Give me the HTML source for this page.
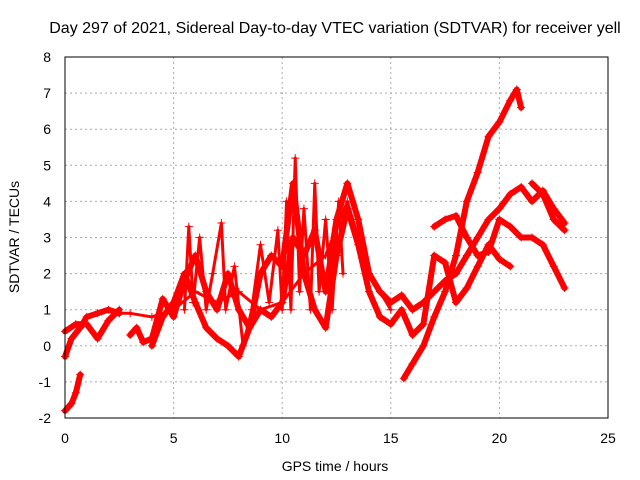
<!DOCTYPE html>
<html><head><meta charset="utf-8"><style>
body{margin:0;background:#fff}
svg{display:block;font-family:"Liberation Sans",sans-serif}
</style></head><body>
<svg id="c" width="640" height="480">
<text x="335" y="33" font-size="16" text-anchor="middle">Day 297 of 2021, Sidereal Day-to-day VTEC variation (SDTVAR) for receiver yell</text>
<text x="335" y="471" font-size="14" text-anchor="middle">GPS time / hours</text>
<text x="19" y="237" font-size="14" text-anchor="middle" transform="rotate(-90 19 237)">SDTVAR / TECUs</text>
<g id="grid"></g><g id="ticks"></g><g id="marks"></g>
<rect x="65" y="57" width="543" height="361" fill="none" stroke="#000"/>
</svg>
<script>
const xTicks=[0,5,10,15,20,25];
const yTicks=[-2,-1,0,1,2,3,4,5,6,7,8];
const track1=[[0,-1.8],[0.3,-1.6],[0.5,-1.3],[0.7,-0.8]];
const track2=[[0,-0.3],[0.3,0.2],[0.7,0.5],[1,0.8],[1.5,0.9],[2,1.0],[2.5,0.9]];
const track3=[[0,0.4],[0.5,0.6],[1,0.6],[1.5,0.2],[2,0.7],[2.5,1.0]];
const track4=[[3,0.3],[3.3,0.5],[3.6,0.1],[4,0.2],[4.5,1.3],[5,0.8],[5.5,1.8],[6,2.5],[6.5,1.5],[7,1.0],[7.5,2.0],[8,1.0],[8.5,0.5],[9,1.0],[9.5,0.8],[10,1.2],[10.5,3.0],[11,2.5],[11.5,3.2],[12,1.5],[12.5,3.5],[13,4.5],[13.5,3.5],[14,2.0],[14.5,1.5],[15,1.2],[15.5,1.4],[16,1.0],[16.5,1.2],[17,1.5],[17.5,1.8],[18,2.0],[18.5,2.5],[19,3.0],[19.5,3.5],[20,3.8],[20.5,4.2],[21,4.4],[21.5,4.0],[22,4.3],[22.5,3.8],[23,3.4]];
const track5=[[4,0],[4.5,0.8],[5,1.2],[5.5,2.0],[6,1.2],[6.5,0.5],[7,0.2],[7.5,0.0],[8,-0.3],[8.5,0.5],[9,2.0],[9.5,2.5],[10,2.2],[10.5,4.5],[11,2.0],[11.5,1.0],[12,0.5],[12.5,2.5],[13,3.8],[13.5,2.8],[14,1.5],[14.5,0.8],[15,0.6],[15.5,1.0],[16,0.3],[16.5,0.6],[17,2.5],[17.5,2.3],[18,1.2],[18.5,1.6],[19,2.2],[19.5,2.8],[20,2.4],[20.5,2.2]];
const track6=[[15.6,-0.9],[16,-0.5],[16.5,0.0],[17,0.8],[17.5,1.5],[18,2.5],[18.5,4.0],[19,4.8],[19.5,5.8],[20,6.2],[20.5,6.8],[20.8,7.1],[21,6.6]];
const track7=[[17,3.3],[17.5,3.5],[18,3.6],[18.5,3.0],[19,2.5],[19.5,2.6],[20,3.5],[20.5,3.3],[21,3.0],[21.5,3.0],[22,2.8],[22.5,2.2],[23,1.6]];
const track8=[[21.5,4.5],[22,4.2],[22.5,3.5],[23,3.2]];
const track9=[[5.5,1.0],[5.7,3.3],[5.9,1.2],[6.2,3.0],[6.5,1.0],[6.8,2.0],[7.2,3.4],[7.4,1.0],[7.8,2.2],[8.2,0.0],[8.6,1.0],[9,2.8],[9.4,1.2],[9.8,3.2],[10,1.0],[10.2,4.0],[10.4,1.0],[10.6,5.2],[10.8,1.5],[11,3.8],[11.3,1.0],[11.5,4.5],[11.7,1.5],[12,3.5],[12.3,1.0],[12.6,4.0],[12.8,2.0]];
const track10=[[2.5,0.9],[3,0.9],[4,0.8],[5,1.0],[6,1.5],[7,1.2],[8,1.5],[9,1.0],[10,1.2],[11,2.0],[12,2.5],[13,4.0],[14,2.0],[15,1.0]];
const tracks=[track1,track2,track3,track4,track5,track6,track7,track8,track9,track10];
const X=v=>65+v*543/25, Y=v=>418-(v+2)*361/10;
const NS="http://www.w3.org/2000/svg";
function mk(t,a,p){const e=document.createElementNS(NS,t);for(const k in a)e.setAttribute(k,a[k]);p.appendChild(e);return e;}
const g=document.getElementById('grid'),tk=document.getElementById('ticks'),m=document.getElementById('marks');
xTicks.forEach(v=>{
 if(v>0&&v<25){const l=mk('line',{x1:X(v),x2:X(v),y1:57,y2:418,stroke:'#aaa','stroke-dasharray':'2,3'},g);
 
 }
 const t=mk('text',{x:X(v),y:443,'font-size':14,'text-anchor':'middle'},tk);t.textContent=v;
 
 
});
yTicks.forEach(v=>{
 if(v>-2&&v<8){const l=mk('line',{x1:65,x2:608,y1:Y(v),y2:Y(v),stroke:'#aaa','stroke-dasharray':'2,3'},g);
 
 }
 const t=mk('text',{x:51,y:Y(v)+5,'font-size':14,'text-anchor':'end'},tk);t.textContent=v;
 
 
});
tracks.forEach((tr,i)=>{
 const pl=mk('polyline',{points:tr.map(p=>X(p[0])+','+Y(p[1])).join(' '),fill:'none',stroke:'#f00','stroke-width':i>=8?3:6,'stroke-linejoin':'round','stroke-linecap':'round'},m);
 
 
 tr.forEach(p=>{
  const c=mk('path',{d:`M${X(p[0])-4},${Y(p[1])}h8M${X(p[0])},${Y(p[1])-4}v8`,stroke:'#f00','stroke-width':1},m);
  
  
 });
});
</script>
</body></html>
